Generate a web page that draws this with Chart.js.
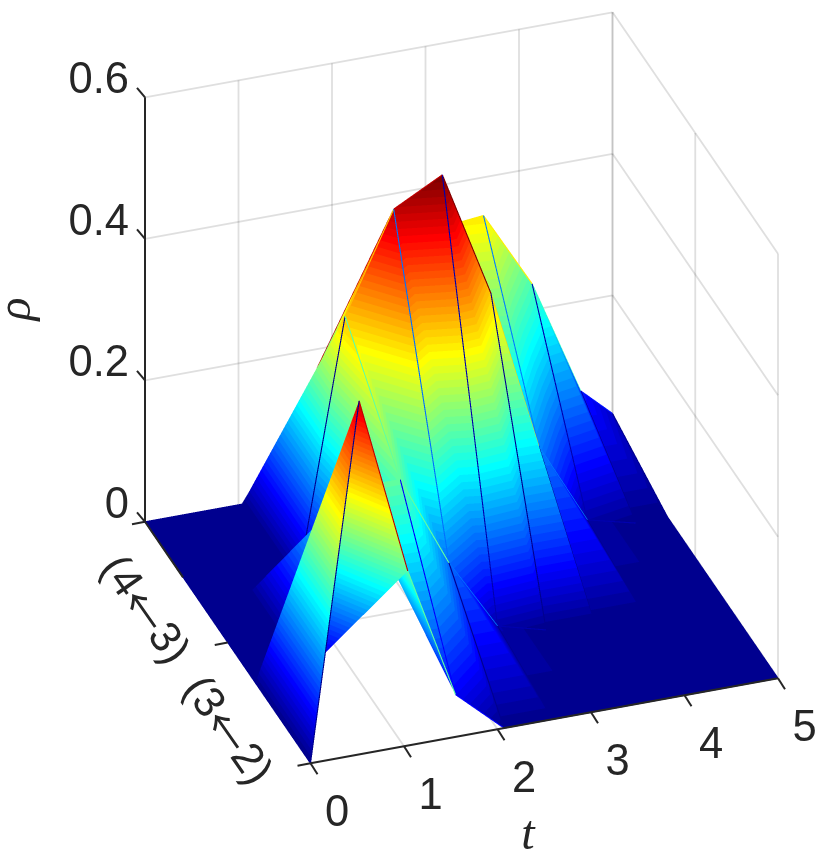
<!DOCTYPE html>
<html>
<head>
<meta charset="utf-8">
<style>
  html, body { margin: 0; padding: 0; background: #fff; }
  canvas { display: block; }
</style>
<script src="https://cdn.jsdelivr.net/npm/chart.js@4"></script>
</head>
<body>
<canvas id="chart" width="830" height="861"></canvas>
<script>
// surface values, one array per transition row
const tValues = [0, 0.52, 1.04, 1.55, 2.07, 2.59, 3.11, 3.62, 4.14, 4.66, 5];
const rowPositions = [0, 1 / 3, 2 / 3, 1];
const rowFront = [0, 0.5, 0.247, 0.06, 0, 0, 0, 0, 0, 0, 0];
const rowSecond = [0, 0, 0.25, 0.25, 0.12, 0.018, 0, 0, 0, 0, 0];
const rowThird = [0, 0, 0, 0.367, 0.506, 0.542, 0.362, 0.134, 0.017, 0, 0];
const rowBack = [0, 0, 0, 0.1, 0.2, 0.3, 0.339, 0.346, 0.237, 0.073, 0.033];
const zRows = [rowFront, rowSecond, rowThird, rowBack];

const tTicks = [0, 1, 2, 3, 4, 5];
const zTicks = [0, 0.2, 0.4, 0.6];
const zTickLabels = ["0", "0.2", "0.4", "0.6"];
const rowTicks = [0, 0.5, 1];
const rowTickLabels = [["(3", "\u2190", "2)"], ["(4", "\u2190", "3)"], null];

const inkColor = "#262626";
const gridColor = "rgba(38,38,38,0.15)";
const zMax = Math.max(...zRows.flat());
const SS = 3; // surface is rasterised at 3x and averaged down

// box projection, t along the front edge, row towards the back, z straight up
function project(t, row, z) {
  return {
    x: 310.5 + 93.5 * t - 165.5 * row,
    y: 763.3 - 17 * t - 241.5 * row - 707.5 * z
  };
}

function viewDepth(t, row, z) {
  return 28.4 * t + 393 * row - 434 * z;
}

function jet(level) {
  const v = (level + 1) / 64;
  const c = f => Math.round(255 * Math.min(1, Math.max(0, f)));
  return [
    c(Math.min(4 * v - 1.5, -4 * v + 4.5)),
    c(Math.min(4 * v - 0.5, -4 * v + 3.5)),
    c(Math.min(4 * v + 0.5, -4 * v + 2.5))
  ];
}

function levelOf(z) {
  return Math.max(0, Math.min(63, Math.floor(z / zMax * 64)));
}

const jetTable = [];
for (let k = 0; k < 64; k++) jetTable.push(jet(k));

// z-buffered surface, so folds hide each other as they do in the figure
function renderSurface(at, width, height) {
  const W = width * SS, H = height * SS;
  const rgba = new Uint8ClampedArray(W * H * 4);
  const zbuf = new Float32Array(W * H).fill(Infinity);

  function tri(a, b, c, color) {
    const area = (b.x - a.x) * (c.y - a.y) - (b.y - a.y) * (c.x - a.x);
    if (Math.abs(area) < 1e-6) return;
    const x0 = Math.max(0, Math.floor(Math.min(a.x, b.x, c.x)));
    const x1 = Math.min(W - 1, Math.ceil(Math.max(a.x, b.x, c.x)));
    const y0 = Math.max(0, Math.floor(Math.min(a.y, b.y, c.y)));
    const y1 = Math.min(H - 1, Math.ceil(Math.max(a.y, b.y, c.y)));
    for (let y = y0; y <= y1; y++) {
      for (let x = x0; x <= x1; x++) {
        const px = x + 0.5, py = y + 0.5;
        const w0 = ((b.x - px) * (c.y - py) - (b.y - py) * (c.x - px)) / area;
        const w1 = ((c.x - px) * (a.y - py) - (c.y - py) * (a.x - px)) / area;
        const w2 = 1 - w0 - w1;
        if (w0 < -1e-4 || w1 < -1e-4 || w2 < -1e-4) continue;
        const d = w0 * a.d + w1 * b.d + w2 * c.d;
        const n = y * W + x;
        if (d > zbuf[n]) continue;
        zbuf[n] = d;
        const rgb = color || jetTable[levelOf(w0 * a.z + w1 * b.z + w2 * c.z)];
        rgba[n * 4] = rgb[0];
        rgba[n * 4 + 1] = rgb[1];
        rgba[n * 4 + 2] = rgb[2];
        rgba[n * 4 + 3] = 255;
      }
    }
  }

  function edge(a, b, color, lineWidth) {
    const len = Math.hypot(b.x - a.x, b.y - a.y);
    const nx = (b.y - a.y) / len * lineWidth * SS / 2;
    const ny = -(b.x - a.x) / len * lineWidth * SS / 2;
    const p = (v, s) => ({ x: v.x + s * nx, y: v.y + s * ny, d: v.d - 4, z: v.z });
    tri(p(a, 1), p(b, 1), p(a, -1), color);
    tri(p(b, 1), p(a, -1), p(b, -1), color);
  }

  const vertex = (r, i) => {
    const z = zRows[r][i];
    const p = at(tValues[i], rowPositions[r], z);
    return { x: p.x * SS, y: p.y * SS, z: z, d: viewDepth(tValues[i], rowPositions[r], z) };
  };
  for (let r = 0; r < zRows.length - 1; r++) {
    for (let i = 0; i < tValues.length - 1; i++) {
      const a = vertex(r, i), b = vertex(r, i + 1), c = vertex(r + 1, i), d = vertex(r + 1, i + 1);
      tri(a, b, c);
      tri(b, c, d);
    }
  }
  // mesh lines take the colour of the vertex they start from
  zRows.forEach((row, r) => {
    row.forEach((z, i) => {
      const a = vertex(r, i);
      const color = jetTable[levelOf(z)];
      if (i < row.length - 1) edge(a, vertex(r, i + 1), color, 1.1);
      if (r < zRows.length - 1) edge(a, vertex(r + 1, i), color, 1.1);
    });
  });
  // the one cell diagonal that shows, behind the left shoulder of the ridge
  edge(vertex(2, 4), vertex(3, 3), jetTable[levelOf(rowThird[4])], 1.1);

  // average down to screen pixels
  const out = new ImageData(width, height);
  for (let y = 0; y < height; y++) {
    for (let x = 0; x < width; x++) {
      let sr = 0, sg = 0, sb = 0, sa = 0;
      for (let j = 0; j < SS; j++) {
        for (let k = 0; k < SS; k++) {
          const n = ((y * SS + j) * W + x * SS + k) * 4;
          if (rgba[n + 3]) {
            sr += rgba[n]; sg += rgba[n + 1]; sb += rgba[n + 2]; sa++;
          }
        }
      }
      if (sa) {
        const m = (y * width + x) * 4;
        out.data[m] = sr / sa;
        out.data[m + 1] = sg / sa;
        out.data[m + 2] = sb / sa;
        out.data[m + 3] = 255 * sa / (SS * SS);
      }
    }
  }
  const layer = document.createElement("canvas");
  layer.width = width;
  layer.height = height;
  layer.getContext("2d").putImageData(out, 0, 0);
  return layer;
}

const surfacePlugin = {
  id: "surface",
  beforeDatasetsDraw(chart) {
    const ctx = chart.ctx;
    const sx = chart.scales.x;
    const sy = chart.scales.y;
    const at = (t, row, z) => {
      const p = project(t, row, z);
      return { x: sx.getPixelForValue(p.x), y: sy.getPixelForValue(p.y) };
    };
    const line = (a, b, color, width) => {
      ctx.strokeStyle = color;
      ctx.lineWidth = width;
      ctx.beginPath();
      ctx.moveTo(a.x, a.y);
      ctx.lineTo(b.x, b.y);
      ctx.stroke();
    };

    ctx.save();
    ctx.lineCap = "butt";

    // back walls and floor
    tTicks.forEach(t => {
      if (t > 0) line(at(t, 0, 0), at(t, 1, 0), gridColor, 1.8);
      if (t > 0) line(at(t, 1, 0), at(t, 1, 0.6), gridColor, 1.8);
    });
    rowTicks.forEach(r => {
      if (r > 0 && r < 1) line(at(0, r, 0), at(5, r, 0), gridColor, 1.8);
      line(at(5, r, 0), at(5, r, 0.6), gridColor, 1.8);
    });
    zTicks.forEach(z => {
      if (z > 0) line(at(0, 1, z), at(5, 1, z), gridColor, 1.8);
      if (z > 0) line(at(5, 1, z), at(5, 0, z), gridColor, 1.8);
    });

    ctx.drawImage(renderSurface(at, chart.width, chart.height), 0, 0);

    // axis lines and ticks
    line(at(0, 1, 0), at(0, 1, 0.6), inkColor, 2);
    line(at(0, 0, 0), at(5, 0, 0), inkColor, 2);
    line(at(0, 1, 0), at(0, 0.77, 0), inkColor, 2);
    tTicks.forEach(t => {
      const p = at(t, 0, 0);
      line(p, { x: p.x + 7, y: p.y + 11 }, inkColor, 2);
    });
    rowTicks.forEach(r => {
      const p = at(0, r, 0);
      line(p, { x: p.x - 13, y: p.y + 2.5 }, inkColor, 2);
    });
    zTicks.forEach(z => {
      const p = at(0, 1, z);
      line(p, { x: p.x - 8, y: p.y - 9.5 }, inkColor, 2);
    });

    // tick labels
    const labelFont = "43.5px 'Liberation Sans'";
    ctx.fillStyle = inkColor;
    ctx.font = labelFont;
    ctx.textAlign = "center";
    ctx.textBaseline = "middle";
    tTicks.forEach(t => {
      const p = at(t, 0, 0);
      ctx.fillText(String(t), p.x + 26.5, p.y + 51);
    });
    ctx.textAlign = "right";
    zTicks.forEach((z, n) => {
      const p = at(0, 1, z);
      ctx.fillText(zTickLabels[n], p.x - 16, p.y - 16);
    });
    ctx.textAlign = "left";
    rowTicks.forEach((r, n) => {
      if (!rowTickLabels[n]) return;
      const p = at(0, r, 0);
      const [head, arrow, tail] = rowTickLabels[n];
      const arrowFont = "43.5px 'Noto Sans CJK JP'";
      ctx.font = labelFont;
      const headW = ctx.measureText(head).width;
      const tailW = ctx.measureText(tail).width;
      ctx.font = arrowFont;
      const arrowW = ctx.measureText(arrow).width;
      let x = -(headW + arrowW + tailW) / 2;
      ctx.save();
      ctx.translate(p.x - 84, p.y - 32);
      ctx.rotate(55 * Math.PI / 180);
      ctx.font = labelFont;
      ctx.fillText(head, x, 0);
      x += headW;
      ctx.font = arrowFont;
      ctx.fillText(arrow, x, 0);
      x += arrowW;
      ctx.font = labelFont;
      ctx.fillText(tail, x, 0);
      ctx.restore();
    });

    // axis titles
    ctx.textAlign = "center";
    ctx.font = "italic 48px 'Liberation Serif'";
    ctx.fillText("t", 528, 836);
    ctx.save();
    ctx.translate(17, 309);
    ctx.rotate(-Math.PI / 2);
    ctx.fillText("\u03c1", 0, 0);
    ctx.restore();
    ctx.restore();
  }
};

const ctx = document.getElementById("chart").getContext("2d");
const myChart = new Chart(ctx, {
  type: "scatter",
  data: {
    datasets: zRows.map((row, r) => ({
      label: "row " + r,
      data: row.map((z, i) => project(tValues[i], rowPositions[r], z)),
      pointRadius: 0,
      showLine: false
    }))
  },
  options: {
    responsive: false,
    animation: false,
    layout: { padding: 0 },
    plugins: { legend: { display: false }, tooltip: { enabled: false } },
    scales: {
      x: { type: "linear", min: 0, max: 830, display: false },
      y: { type: "linear", min: 0, max: 861, reverse: true, display: false }
    }
  },
  plugins: [surfacePlugin]
});
</script>
</body>
</html>
